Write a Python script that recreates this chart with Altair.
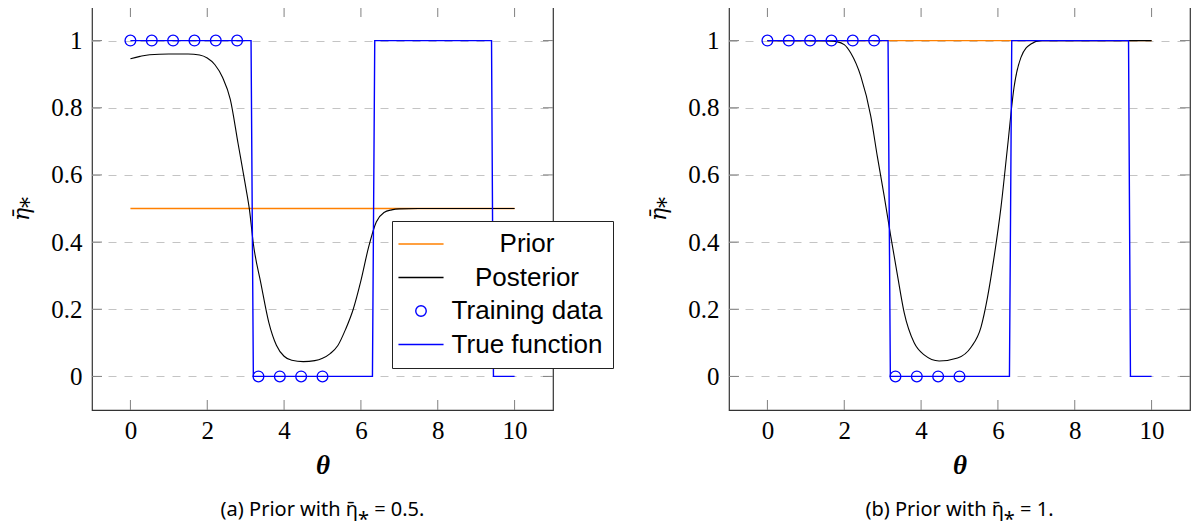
import altair as alt
import pandas as pd

# ---------------- data ----------------
x_ticks = [0, 2, 4, 6, 8, 10]
y_ticks = [0, 0.2, 0.4, 0.6, 0.8, 1]

series_names = ["Prior", "Posterior", "Training data", "True function"]
series_colors = ["#ff8000", "#000000", "#0000ff", "#0000ff"]

train_x = [0, 0.556, 1.111, 1.667, 2.222, 2.778, 3.333, 3.889, 4.444, 5.0]
train_y = [1, 1, 1, 1, 1, 1, 0, 0, 0, 0]

true_x = [0, 3.14, 3.2, 6.3, 6.36, 9.4, 9.45, 10]
true_y = [1, 1, 0, 0, 1, 1, 0, 0]

prior_x = [0, 10]
prior_a = [0.5, 0.5]
prior_b = [1, 1]

post_a_x = [0, 0.25, 0.5, 1.0, 1.5, 1.8, 2.0, 2.2, 2.4, 2.6, 2.8, 3.0, 3.1, 3.2, 3.4,
            3.6, 3.8, 4.0, 4.2, 4.5, 4.8, 5.0, 5.2, 5.4, 5.6, 5.8, 6.0, 6.2, 6.4, 6.6,
            6.8, 7.0, 7.5, 8.0, 9.0, 10.0]
post_a_y = [0.946, 0.953, 0.958, 0.96, 0.96, 0.957, 0.948, 0.928, 0.89, 0.825, 0.695,
            0.565, 0.495, 0.395, 0.275, 0.162, 0.093, 0.06, 0.048, 0.044, 0.047, 0.054,
            0.068, 0.092, 0.14, 0.20, 0.285, 0.385, 0.46, 0.488, 0.496, 0.499, 0.5, 0.5,
            0.5, 0.5]

post_b_x = [0, 1.0, 1.6, 1.8, 2.0, 2.17, 2.43, 2.69, 2.86, 3.04, 3.21, 3.39, 3.56, 3.82,
            4.08, 4.47, 4.95, 5.3, 5.56, 5.73, 5.9, 6.08, 6.25, 6.42, 6.6, 6.86, 7.12, 8,
            9, 10]
post_b_y = [1, 1, 0.999, 0.997, 0.988, 0.963, 0.894, 0.775, 0.656, 0.537, 0.418, 0.298,
            0.19, 0.10, 0.064, 0.046, 0.055, 0.087, 0.147, 0.236, 0.355, 0.504, 0.683,
            0.861, 0.95, 0.99, 1.0, 1, 1, 1]

captions = ["(a) Prior with η̄⁎ = 0.5.", "(b) Prior with η̄⁎ = 1."]

# ---------------- styling ----------------
W, H = 461, 403
TICK = 10
LINE = "M-4.3,0L4.3,0"
SERIF = "Liberation Serif"
SANS = "Liberation Sans"

xscale = alt.Scale(domain=[-1, 11], nice=False, zero=False)
yscale = alt.Scale(domain=[-0.1, 1.1], nice=False, zero=False)

x_axis = alt.Axis(values=x_ticks, title="θ", grid=False, domain=False, tickSize=0,
                  labelFont=SERIF, labelFontSize=25, labelPadding=8, labelColor="black",
                  titleFont=SERIF, titleFontSize=27, titleFontStyle="italic",
                  titleFontWeight="bold", titlePadding=9, titleColor="black")
y_axis = alt.Axis(values=y_ticks, title="η̄⁎", format="~g", grid=True,
                  gridDash=[8, 8], gridColor="#c4c4c4", gridWidth=1,
                  domain=False, tickSize=0, labelFont=SERIF, labelFontSize=25,
                  labelPadding=10, labelColor="black", titleFont="DejaVu Serif",
                  titleFontSize=22, titleFontStyle="italic", titleFontWeight="normal",
                  titlePadding=17, titleColor="black")


def panel(prior_y, px, py, show_legend, caption):
    prior_df = pd.DataFrame({"x": prior_x, "y": prior_y})
    post_df = pd.DataFrame({"x": px, "y": py})
    true_df = pd.DataFrame({"x": true_x, "y": true_y})
    train_df = pd.DataFrame({"x": train_x, "y": train_y,
                             "series": ["Training data"] * len(train_x)})
    xt_df = pd.DataFrame({"x": x_ticks})
    yt_df = pd.DataFrame({"y": y_ticks})

    base_x = alt.X("x:Q", scale=xscale, axis=x_axis)
    base_y = alt.Y("y:Q", scale=yscale, axis=y_axis)

    prior = alt.Chart(prior_df).mark_line(color="#ff8000", strokeWidth=1.4).encode(
        x=base_x, y=base_y)
    post = alt.Chart(post_df).mark_line(color="black", strokeWidth=1.1,
                                         interpolate="monotone").encode(x=base_x, y=base_y)
    true = alt.Chart(true_df).mark_line(color="#0000ff", strokeWidth=1.4).encode(
        x=base_x, y=base_y)

    if show_legend:
        leg = alt.Legend(orient="none", legendX=300, legendY=214, title=None,
                         labelFont=SANS, labelFontSize=26, labelColor="black",
                         labelAlign="center", labelOffset=93, symbolOffset=6,
                         symbolSize=110, symbolStrokeWidth=1.4, strokeColor="#222",
                         fillColor="white", padding=10, rowPadding=7.5,
                         cornerRadius=0, labelLimit=400)
    else:
        leg = None
    train = alt.Chart(train_df).mark_point(filled=False, size=115, strokeWidth=1.3,
                                            opacity=1).encode(
        x=base_x, y=base_y,
        color=alt.Color("series:N", scale=alt.Scale(domain=series_names,
                                                     range=series_colors), legend=leg),
        shape=alt.Shape("series:N", scale=alt.Scale(domain=series_names,
                                                     range=[LINE, LINE, "circle", LINE]),
                        legend=leg))

    tick_col = "#808080"
    bot = alt.Chart(xt_df).mark_rule(color=tick_col).encode(
        x=alt.X("x:Q", scale=xscale, axis=x_axis), y=alt.value(H), y2=alt.value(H - TICK))
    top = alt.Chart(xt_df).mark_rule(color=tick_col).encode(
        x=alt.X("x:Q", scale=xscale, axis=x_axis), y=alt.value(0), y2=alt.value(TICK))
    left = alt.Chart(yt_df).mark_rule(color=tick_col).encode(
        y=alt.Y("y:Q", scale=yscale, axis=y_axis), x=alt.value(0), x2=alt.value(TICK))
    right = alt.Chart(yt_df).mark_rule(color=tick_col).encode(
        y=alt.Y("y:Q", scale=yscale, axis=y_axis), x=alt.value(W - TICK), x2=alt.value(W))

    return alt.layer(bot, top, left, right, prior, post, true, train).properties(
        width=W, height=H,
        title=alt.TitleParams(caption, orient="bottom", anchor="middle", font="Noto Sans",
                              fontSize=20, fontWeight="normal", color="black", offset=22))


pa = panel(prior_a, post_a_x, post_a_y, True, captions[0])
pb = panel(prior_b, post_b_x, post_b_y, False, captions[1])

chart = alt.hconcat(pa, pb, spacing=32).resolve_scale(
    color="independent", shape="independent").resolve_legend(
    color="independent", shape="independent").properties(
    padding={"left": 2, "top": -3, "right": 0, "bottom": 0}).configure_view(
    stroke="#333333", strokeWidth=1.2)

chart.save("out.html", embed_options={"renderer": "svg", "actions": False})
